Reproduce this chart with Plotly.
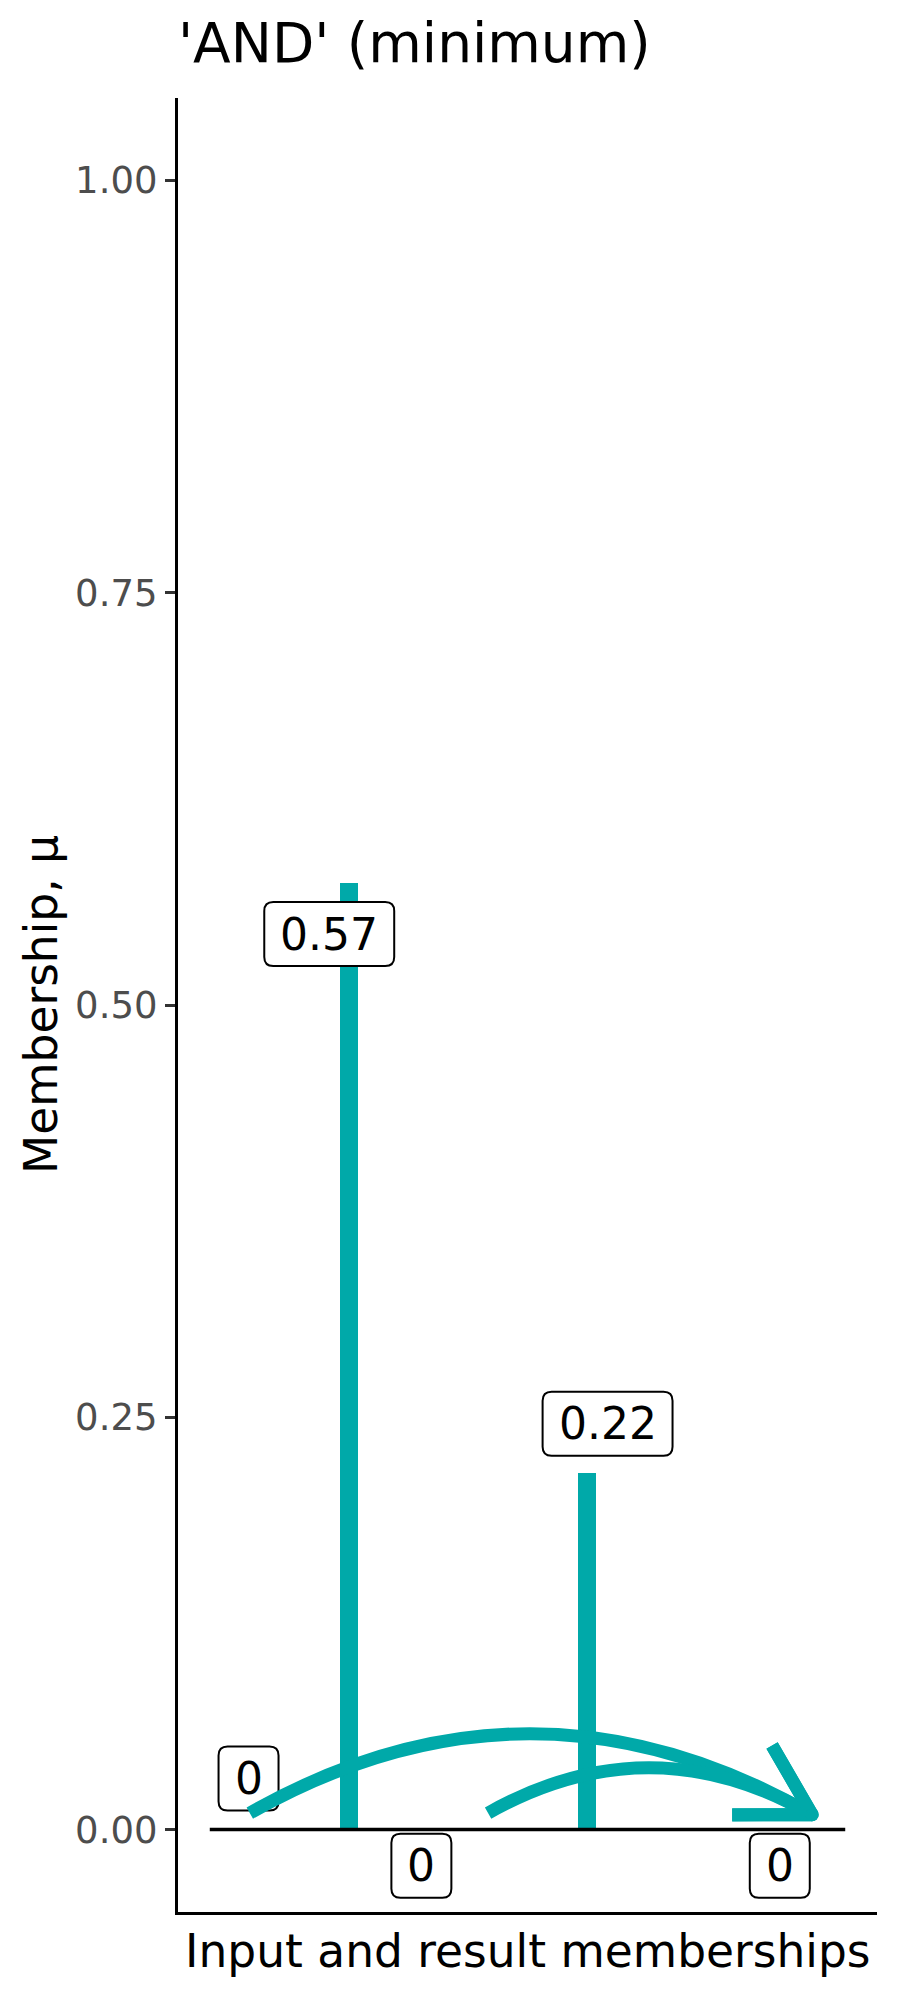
import math
import plotly.graph_objects as go

# ---------------- data ----------------
title_text = "'AND' (minimum)"
x_title = "Input and result memberships"
y_title = "Membership, \u03bc"

baseline_x = [0.0, 1.0]
baseline_y = [0.0, 0.0]

bar_x = [0.219, 0.594]
bar_values = [0.574, 0.216]

label_x = [0.061, 0.188, 0.333, 0.626, 0.897]
label_y = [0.031, 0.543, -0.022, 0.246, -0.022]
label_text = ["0", "0.57", "0", "0.22", "0"]

arrow_start_x = [0.063, 0.438]
arrow_start_y = [0.010, 0.010]
arrow_end_x = [0.948, 0.948]
arrow_end_y = [0.009, 0.009]

y_tick_vals = [0.0, 0.25, 0.5, 0.75, 1.0]
y_tick_text = ["0.00", "0.25", "0.50", "0.75", "1.00"]

# ---------------- style ----------------
TEAL = "#00A9A9"
FONT = "DejaVu Sans"
OFF = 8  # page body margin of the html page
W, H = 900 - OFF, 2000 - OFF
M_L, M_R, M_T, M_B = 178 - OFF, 23, 98 - OFF, 88
X_RANGE = [-0.05, 1.05]
Y_RANGE = [-0.05, 1.05]
plot_w = W - M_L - M_R
plot_h = H - M_T - M_B
pxx = plot_w / (X_RANGE[1] - X_RANGE[0])
pxy = plot_h / (Y_RANGE[1] - Y_RANGE[0])
LW = 13

fig = go.Figure()

fig.add_trace(go.Scatter(x=baseline_x, y=baseline_y, mode="lines",
                         line=dict(color="black", width=3.5),
                         hoverinfo="skip", showlegend=False))

fig.add_trace(go.Bar(x=bar_x, y=bar_values, width=17.5 / pxx,
                     marker=dict(color=TEAL, line=dict(width=0)),
                     showlegend=False, hoverinfo="skip"))

shapes = []
annotations = []

# rounded label boxes (pixel-sized, anchored on data positions)
LABEL_FS = 44
def text_width(t):
    w = 0
    for ch in t:
        w += 0.318 if ch == "." else 0.636
    return w * LABEL_FS

for lx, ly, lt in zip(label_x, label_y, label_text):
    hw = text_width(lt) / 2 + 16
    hh = 32
    r = 9
    p = (f"M {-hw + r},{-hh} L {hw - r},{-hh} Q {hw},{-hh} {hw},{-hh + r} "
         f"L {hw},{hh - r} Q {hw},{hh} {hw - r},{hh} L {-hw + r},{hh} "
         f"Q {-hw},{hh} {-hw},{hh - r} L {-hw},{-hh + r} Q {-hw},{-hh} {-hw + r},{-hh} Z")
    shapes.append(dict(type="path", xref="x", yref="y", xsizemode="pixel",
                       ysizemode="pixel", xanchor=lx, yanchor=ly, path=p,
                       fillcolor="white", line=dict(color="black", width=2),
                       layer="above"))
    annotations.append(dict(x=lx, y=ly, xref="x", yref="y", text=lt,
                            showarrow=False, xanchor="center", yanchor="middle",
                            font=dict(family=FONT, size=LABEL_FS, color="black")))

# curved arrows
K = 0.285
HEAD_LEN = 80
HEAD_ANG = math.radians(30)
for x0, y0, x1, y1 in zip(arrow_start_x, arrow_start_y, arrow_end_x, arrow_end_y):
    dx = (x1 - x0) * pxx
    dy = (y1 - y0) * pxy
    L = math.hypot(dx, dy)
    nx, ny = -dy / L, dx / L
    cx = (x0 + x1) / 2 + nx * K * L / pxx
    cy = (y0 + y1) / 2 + ny * K * L / pxy
    shapes.append(dict(type="path", xref="x", yref="y",
                       path=f"M {x0},{y0} Q {cx},{cy} {x1},{y1}",
                       line=dict(color=TEAL, width=LW), layer="above"))
    tx = (x1 - cx) * pxx
    ty = (y1 - cy) * pxy
    tl = math.hypot(tx, ty)
    bx, by = -tx / tl, -ty / tl
    pts = []
    for a in (HEAD_ANG, -HEAD_ANG):
        rx = bx * math.cos(a) - by * math.sin(a)
        ry = bx * math.sin(a) + by * math.cos(a)
        pts.append((rx * HEAD_LEN, ry * HEAD_LEN))
    hp = (f"M {pts[0][0]:.2f},{pts[0][1]:.2f} L 0,0 "
          f"M 0,0 L {pts[1][0]:.2f},{pts[1][1]:.2f}")
    shapes.append(dict(type="path", xref="x", yref="y", xsizemode="pixel",
                       ysizemode="pixel", xanchor=x1, yanchor=y1, path=hp,
                       line=dict(color=TEAL, width=LW), layer="above"))
    # round join at the arrow tip
    shapes.append(dict(type="circle", xref="x", yref="y", xsizemode="pixel",
                       ysizemode="pixel", xanchor=x1, yanchor=y1,
                       x0=-LW / 2, x1=LW / 2, y0=-LW / 2, y1=LW / 2,
                       fillcolor=TEAL, line=dict(width=0), layer="above"))

# axis titles
annotations.append(dict(text=x_title, xref="paper", yref="paper", x=0.5,
                        y=-(1951 - 1912) / plot_h, xanchor="center",
                        yanchor="middle", showarrow=False,
                        font=dict(family=FONT, size=45.5, color="black")))
annotations.append(dict(text=y_title, xref="paper", yref="paper",
                        x=(41 - 178) / plot_w, y=0.5, xanchor="center",
                        yanchor="middle", textangle=-90, showarrow=False,
                        font=dict(family=FONT, size=45.5, color="black")))

fig.update_layout(
    width=W, height=H,
    margin=dict(l=M_L, r=M_R, t=M_T, b=M_B),
    paper_bgcolor="white", plot_bgcolor="white",
    title=dict(text=title_text, x=M_L / W, xref="container", xanchor="left",
               y=1 - (43 - OFF) / H, yref="container", yanchor="middle",
               font=dict(family=FONT, size=55, color="black")),
    shapes=shapes, annotations=annotations,
    showlegend=False, bargap=0,
    xaxis=dict(range=X_RANGE, showgrid=False, zeroline=False, showline=True,
               linecolor="black", linewidth=3.2, ticks="", showticklabels=False,
               fixedrange=True),
    yaxis=dict(range=Y_RANGE, showgrid=False, zeroline=False, showline=True,
               linecolor="black", linewidth=3.2, ticks="outside", ticklen=10,
               tickwidth=3, tickcolor="#333333", tickvals=y_tick_vals,
               ticktext=y_tick_text, ticklabelstandoff=0,
               tickfont=dict(family=FONT, size=37, color="#4D4D4D"),
               fixedrange=True),
)

fig.write_html("out.html")
